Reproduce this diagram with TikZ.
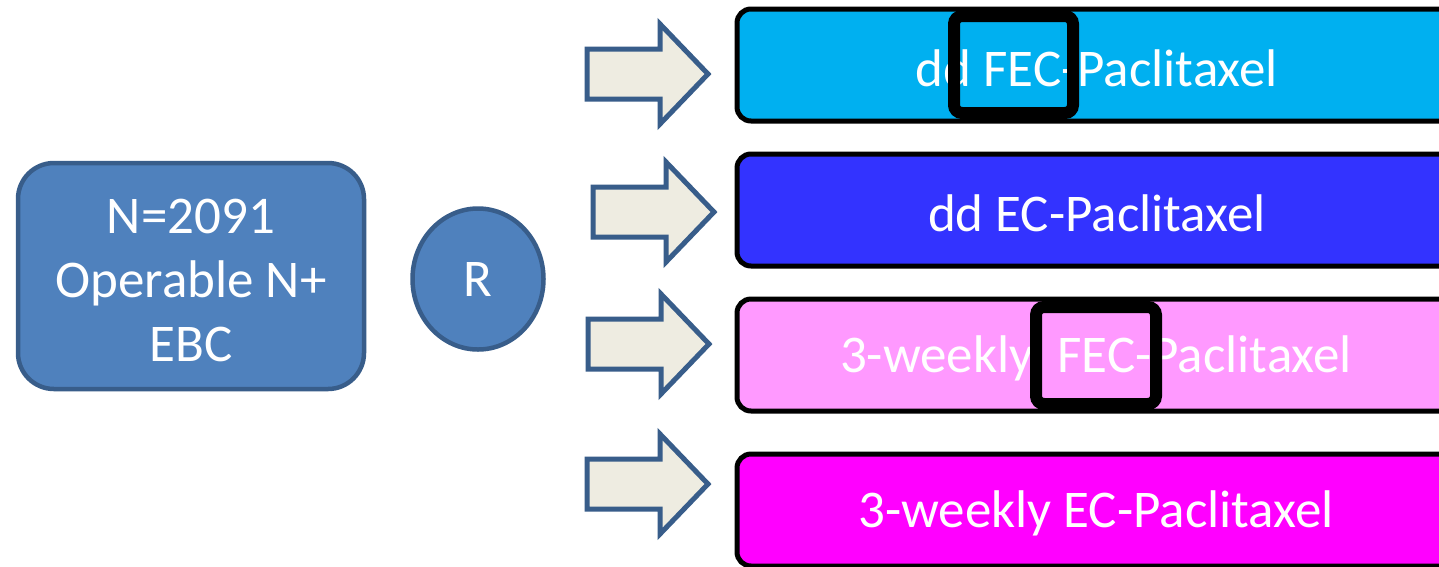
\documentclass[tikz,border=0pt]{standalone}
\usepackage{fontspec}
\setmainfont{Carlito}
\usetikzlibrary{shapes.geometric}
\definecolor{bluefill}{HTML}{4F81BD}
\definecolor{blueline}{HTML}{385D8A}
\definecolor{arrowfill}{HTML}{EEECE1}
\definecolor{armA}{HTML}{00B0F0}
\definecolor{armB}{HTML}{3333FF}
\definecolor{armC}{HTML}{FF99FF}
\definecolor{armD}{HTML}{FF00FF}
\tikzset{
  txt/.style={text=white,font=\fontsize{53}{64}\selectfont,align=center},
  armbox/.style={txt,draw=black,line width=5pt,rounded corners=14pt,minimum width=720pt,minimum height=112pt,inner sep=0pt},
  blockarrow/.style={fill=arrowfill,draw=blueline,line width=5pt,line join=miter},
  hilite/.style={draw=black,line width=12pt,rounded corners=8pt},
}
\newcommand{\blockarr}[3]{% name, x0, cy
  \draw[blockarrow] (#2,#3-25) -- (#2+73,#3-25) -- (#2+73,#3-50) -- (#2+121,#3)
    -- (#2+73,#3+50) -- (#2+73,#3+25) -- (#2,#3+25) -- cycle;
  \coordinate (#1) at (#2+121,#3);
}
\begin{document}
\begin{tikzpicture}[x=1pt,y=-1pt]
\useasboundingbox (0,0) rectangle (1439,566);
\clip (0,0) rectangle (1439,566);
\fill[white] (0,0) rectangle (1439,566);
% population box
\node[fill=bluefill,draw=blueline,line width=4.5pt,rounded corners=36pt,
  minimum width=346pt,minimum height=226pt,inner sep=0pt] (pop) at (191,276) {};
\node[txt] (poptxt) at (191,280) {N=2091\\Operable N+\\EBC};
% randomisation
\node[txt,ellipse,fill=bluefill,draw=blueline,line width=4.5pt,
  minimum width=131pt,minimum height=141pt,inner sep=0pt] (rand) at (478,279) {R};
% arrows
\blockarr{a1}{587}{74}
\blockarr{a2}{593}{212}
\blockarr{a3}{588}{344}
\blockarr{a4}{587}{484}
% arm boxes
\node[armbox,fill=armA] (b1) at (1097,65) {};
\node[armbox,fill=armB] (b2) at (1097,210) {};
\node[armbox,fill=armC] (b3) at (1097,355) {};
\node[armbox,fill=armD] (b4) at (1097,510) {};
\node[txt] (t1) at (1097,68) {dd FEC-Paclitaxel};
\node[txt] (t2) at (1097,213) {dd EC-Paclitaxel};
\node[txt] (t3) at (1096,358) {3-weekly\ \ FEC-Paclitaxel};
\node[txt] (t4) at (1096,513) {3-weekly EC-Paclitaxel};
% highlight squares
\draw[hilite] (954,16) rectangle (1073,113);
\draw[hilite] (1036,307) rectangle (1156,404);
\end{tikzpicture}
\end{document}
